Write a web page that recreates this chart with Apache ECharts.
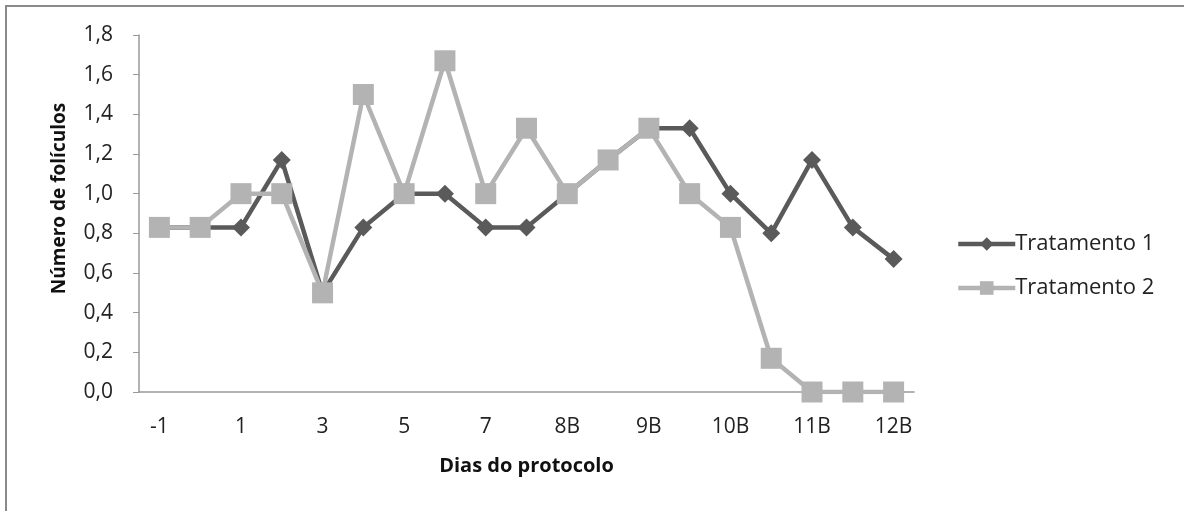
<!DOCTYPE html>
<html>
<head>
<meta charset="utf-8">
<script src="https://cdn.jsdelivr.net/npm/echarts@6/dist/echarts.min.js"></script>
<style>
    html, body { margin: 0; padding: 0; background: #fff; }
    #frame { position: absolute; left: 5px; top: 5px; width: 1179px; height: 506px;
             border-top: 2px solid #8a8a8a; border-left: 2px solid #8a8a8a; box-sizing: border-box; }
    #my_chart { position: absolute; left: 0; top: 0; width: 1184px; height: 511px; }
</style>
</head>
<body>
<div id="frame"></div>
<div id="my_chart"></div>
<script>
// dias do protocolo (só metade aparece no eixo)
var dias = ['-1', '0', '1', '2', '3', '4', '5', '6', '7', '8A', '8B', '9A', '9B', '10A', '10B', '11A', '11B', '12A', '12B'];
var tratamento1 = [0.83, 0.83, 0.83, 1.17, 0.5, 0.83, 1.0, 1.0, 0.83, 0.83, 1.0, 1.17, 1.33, 1.33, 1.0, 0.8, 1.17, 0.83, 0.67];
var tratamento2 = [0.83, 0.83, 1.0, 1.0, 0.5, 1.5, 1.0, 1.67, 1.0, 1.33, 1.0, 1.17, 1.33, 1.0, 0.83, 0.17, 0, 0, 0];

var fonte = '"Open Sans", "Noto Sans", sans-serif';

var myChart = echarts.init(document.getElementById('my_chart'));

var option = {
    animation: false,
    textStyle: { fontFamily: fonte },
    grid: { left: 139, right: 270, top: 35, bottom: 119 },
    color: ['#5a5a5a', '#b3b3b3'],
    legend: {
        orient: 'vertical',
        left: 951,
        top: 228,
        itemGap: 22,
        itemWidth: 57,
        itemHeight: 17,
        lineStyle: { width: 4.5 },
        textStyle: { fontSize: 22, color: '#222', fontFamily: fonte, padding: [0, 0, 0, -5] },
        data: ['Tratamento 1', 'Tratamento 2']
    },
    xAxis: {
        type: 'category',
        data: dias,
        boundaryGap: true,
        name: 'Dias do protocolo',
        nameLocation: 'middle',
        nameGap: 64,
        nameTextStyle: { fontSize: 20, fontWeight: 'bold', color: '#111', fontFamily: fonte },
        axisLine: { lineStyle: { color: '#999', width: 1.5 } },
        axisTick: { show: false },
        axisLabel: {
            interval: 1,
            margin: 25,
            fontSize: 21,
            color: '#222'
        }
    },
    yAxis: {
        type: 'value',
        min: 0,
        max: 1.8,
        interval: 0.2,
        name: 'Número de folículos',
        nameLocation: 'middle',
        nameGap: 70,
        nameRotate: 90,
        nameTextStyle: { fontSize: 19, fontWeight: 'bold', color: '#111', fontFamily: fonte, padding: [0, 0, 0, 30] },
        splitLine: { show: false },
        axisLine: { show: true, lineStyle: { color: '#999', width: 1.5 } },
        axisTick: { show: true, inside: false, length: 6, lineStyle: { color: '#999' } },
        axisLabel: {
            margin: 26,
            fontSize: 21,
            color: '#222',
            formatter: function (v) {
                return v.toFixed(1).replace('.', ',');
            }
        }
    },
    series: [
        {
            type: 'line',
            name: 'Tratamento 1',
            data: tratamento1,
            symbol: 'diamond',
            symbolSize: 18,
            lineStyle: { color: '#5a5a5a', width: 4.5 },
            itemStyle: { color: '#5a5a5a' },
            z: 2
        },
        {
            type: 'line',
            name: 'Tratamento 2',
            data: tratamento2,
            symbol: 'rect',
            symbolSize: 21,
            lineStyle: { color: '#b3b3b3', width: 4.5 },
            itemStyle: { color: '#b3b3b3' },
            z: 3
        }
    ]
};

myChart.setOption(option);
</script>
</body>
</html>
